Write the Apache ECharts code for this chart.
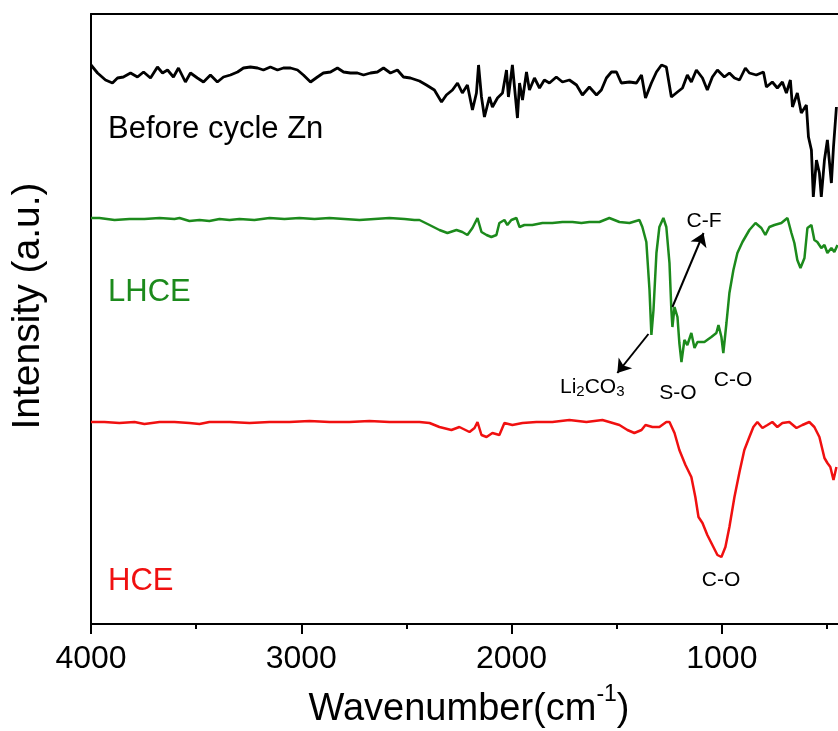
<!DOCTYPE html>
<html><head><meta charset="utf-8">
<script src="https://cdn.jsdelivr.net/npm/echarts@6/dist/echarts.min.js"></script>
<style>html,body{margin:0;padding:0;background:#fff}#c{width:838px;height:731px}</style>
</head><body><div id="c"></div>
<script>
// [wavenumber (cm-1), intensity (a.u., offset)]
const blackSpectrum = [[4000,559],[3969,551],[3931,544],[3898,541],[3874,546],[3846,547],[3812,551],[3779,547],[3750,552],[3717,546],[3684,557],[3660,551],[3636,554],[3608,547],[3584,556],[3551,542],[3527,551],[3494,546],[3465,542],[3432,549],[3399,542],[3370,547],[3337,549],[3303,552],[3275,556],[3242,557],[3208,556],[3180,554],[3147,557],[3113,554],[3085,556],[3051,556],[3018,554],[2990,549],[2956,542],[2923,547],[2895,551],[2861,552],[2828,556],[2799,552],[2766,551],[2733,551],[2704,549],[2671,551],[2638,552],[2609,556],[2576,551],[2543,554],[2514,547],[2481,546],[2438,543],[2405,539],[2367,534],[2333,522],[2310,529],[2281,534],[2257,541],[2234,531],[2210,539],[2186,514],[2167,531],[2157,559],[2143,527],[2129,507],[2105,527],[2091,517],[2067,526],[2043,531],[2024,554],[2015,527],[1996,559],[1986,537],[1972,506],[1962,541],[1948,524],[1929,552],[1915,534],[1891,546],[1867,536],[1844,544],[1820,541],[1787,547],[1758,542],[1725,544],[1691,539],[1663,529],[1630,537],[1596,529],[1573,534],[1549,546],[1525,552],[1501,552],[1478,541],[1439,542],[1406,541],[1382,549],[1363,526],[1335,541],[1311,552],[1287,559],[1264,557],[1240,527],[1211,532],[1187,536],[1164,549],[1145,542],[1121,554],[1092,546],[1069,534],[1045,547],[1021,554],[988,547],[964,551],[940,546],[916,544],[888,556],[869,551],[836,549],[802,552],[788,537],[760,542],[736,536],[712,542],[693,531],[674,544],[664,517],[641,531],[622,511],[598,519],[588,487],[574,474],[565,427],[550,464],[536,451],[527,427],[512,464],[498,484],[479,441],[469,477],[455,517]];

const greenSpectrum = [[4000,406],[3960,406],[3888,404],[3817,405],[3746,405],[3674,406],[3603,405],[3579,406],[3532,403],[3484,404],[3437,403],[3389,405],[3341,404],[3294,405],[3223,404],[3151,406],[3080,405],[3009,406],[2937,405],[2866,406],[2795,405],[2723,404],[2652,405],[2581,406],[2509,405],[2462,404],[2438,404],[2390,399],[2343,394],[2305,391],[2262,394],[2234,392],[2210,389],[2186,396],[2162,406],[2143,392],[2119,389],[2096,387],[2072,389],[2058,401],[2034,404],[2020,399],[2001,404],[1977,406],[1962,397],[1939,399],[1901,399],[1853,401],[1806,401],[1758,402],[1710,402],[1668,401],[1630,402],[1582,402],[1535,406],[1487,402],[1439,401],[1392,404],[1378,397],[1359,382],[1344,334],[1335,289],[1325,314],[1311,371],[1297,397],[1278,406],[1264,397],[1249,361],[1240,314],[1235,297],[1225,317],[1211,307],[1202,281],[1192,262],[1178,284],[1164,279],[1145,291],[1130,276],[1116,282],[1083,282],[1050,287],[1026,291],[1016,299],[1002,287],[993,271],[978,301],[964,331],[945,354],[926,371],[902,382],[869,394],[840,401],[812,396],[793,389],[774,397],[750,399],[717,401],[688,406],[669,391],[655,381],[641,364],[626,356],[607,366],[593,396],[574,399],[560,384],[546,382],[527,376],[512,379],[498,371],[479,376],[465,372],[450,379]];

const redSpectrum = [[4000,202],[3936,202],[3865,201],[3793,202],[3746,200],[3674,202],[3603,202],[3532,201],[3484,200],[3437,202],[3341,202],[3246,201],[3151,202],[3056,202],[2961,203],[2866,202],[2771,202],[2676,203],[2581,202],[2486,202],[2438,202],[2390,201],[2343,197],[2286,194],[2248,197],[2200,192],[2176,196],[2162,202],[2143,189],[2119,187],[2091,191],[2058,189],[2034,201],[1996,199],[1948,201],[1882,202],[1806,202],[1725,204],[1644,202],[1568,204],[1535,202],[1487,199],[1449,194],[1416,191],[1382,194],[1363,199],[1330,197],[1297,197],[1264,202],[1249,202],[1225,191],[1202,174],[1173,159],[1145,147],[1126,127],[1111,107],[1092,101],[1069,89],[1045,79],[1021,69],[1002,67],[983,77],[964,97],[940,127],[916,152],[893,174],[869,187],[850,197],[831,202],[807,196],[783,199],[760,202],[736,197],[712,201],[679,202],[645,196],[617,199],[584,202],[560,197],[536,187],[512,166],[498,161],[484,157],[469,144],[455,157]];

const majorTicks = [1000, 2000, 3000, 4000];
const minorTicks = [500, 1500, 2500, 3500];
const xRange = [400, 4000];
const yRange = [0, 610];
// annotation arrows: [from, to] in data coordinates
const arrowLines = [[[1349, 290], [1497, 251]], [[1235, 317], [1087, 391]]];

const FONT = 'Liberation Sans';
const GREEN = '#1c8a1c';
const RED = '#f01010';
const chart = echarts.init(document.getElementById('c'), null, {renderer: 'canvas'});

function xAx(extra) {
  return Object.assign({
    type: 'value', min: xRange[0], max: xRange[1], inverse: true,
    splitLine: {show: false}, minorTick: {show: false}, minorSplitLine: {show: false}
  }, extra);
}

const option = {
  animation: false,
  backgroundColor: '#ffffff',
  grid: {left: 91, right: -10, top: 14, bottom: 107, containLabel: false, outerBoundsMode: 'none'},
  xAxis: [
    xAx({position: 'bottom',
      axisLine: {show: true, onZero: false, lineStyle: {color: '#000', width: 2}},
      axisTick: {show: true, inside: false, length: 10, customValues: majorTicks, lineStyle: {color: '#000', width: 2}},
      axisLabel: {show: true, customValues: majorTicks, margin: 19, fontSize: 32, fontFamily: FONT, color: '#000',
        formatter: v => String(Math.round(v))}}),
    xAx({position: 'bottom',
      axisLine: {show: false, onZero: false},
      axisTick: {show: true, inside: false, length: 5, customValues: minorTicks, lineStyle: {color: '#000', width: 2}},
      axisLabel: {show: false}}),
    xAx({position: 'top',
      axisLine: {show: true, onZero: false, lineStyle: {color: '#000', width: 2}},
      axisTick: {show: false}, axisLabel: {show: false}})
  ],
  yAxis: {
    type: 'value', min: yRange[0], max: yRange[1],
    axisLine: {show: true, onZero: false, lineStyle: {color: '#000', width: 2}},
    axisTick: {show: false}, axisLabel: {show: false}, splitLine: {show: false}
  },
  series: [
    {type: 'line', name: 'Before cycle Zn', data: blackSpectrum, symbol: 'none', showSymbol: false,
      lineStyle: {color: '#000', width: 2.8}, itemStyle: {color: '#000'}, silent: true},
    {type: 'line', name: 'LHCE', data: greenSpectrum, symbol: 'none', showSymbol: false,
      lineStyle: {color: GREEN, width: 2.5}, itemStyle: {color: GREEN}, silent: true,
      markLine: {silent: true, animation: false, symbol: ['none', 'arrow'], symbolSize: 13,
        lineStyle: {color: '#000', width: 2, type: 'solid'}, label: {show: false},
        emphasis: {disabled: true},
        data: arrowLines.map(a => [{coord: a[0]}, {coord: a[1]}])}},
    {type: 'line', name: 'HCE', data: redSpectrum, symbol: 'none', showSymbol: false,
      lineStyle: {color: RED, width: 2.5}, itemStyle: {color: RED}, silent: true}
  ],
  graphic: [
    {type: 'text', x: 108, y: 129, style: {text: 'Before cycle Zn', fontSize: 31, fontFamily: FONT, fill: '#000', align: 'left', verticalAlign: 'middle'}},
    {type: 'text', x: 108, y: 292, style: {text: 'LHCE', fontSize: 31, fontFamily: FONT, fill: GREEN, align: 'left', verticalAlign: 'middle'}},
    {type: 'text', x: 108, y: 581, style: {text: 'HCE', fontSize: 31, fontFamily: FONT, fill: RED, align: 'left', verticalAlign: 'middle'}},
    {type: 'text', x: 704, y: 221, style: {text: 'C-F', fontSize: 21, fontFamily: FONT, fill: '#000', align: 'center', verticalAlign: 'middle'}},
    {type: 'text', x: 678, y: 393, style: {text: 'S-O', fontSize: 21, fontFamily: FONT, fill: '#000', align: 'center', verticalAlign: 'middle'}},
    {type: 'text', x: 733, y: 380, style: {text: 'C-O', fontSize: 21, fontFamily: FONT, fill: '#000', align: 'center', verticalAlign: 'middle'}},
    {type: 'text', x: 721, y: 580, style: {text: 'C-O', fontSize: 21, fontFamily: FONT, fill: '#000', align: 'center', verticalAlign: 'middle'}},
    {type: 'text', x: 560, y: 387, style: {text: '{a|Li}{b|2}{a|CO}{b|3}', fill: '#000', align: 'left', verticalAlign: 'middle',
      rich: {a: {fontSize: 21, fontFamily: FONT, lineHeight: 24, fill: '#000'},
             b: {fontSize: 15, fontFamily: FONT, lineHeight: 10, verticalAlign: 'bottom', fill: '#000'}}}},
    {type: 'text', x: 469, y: 710, style: {text: '{a|Wavenumber(cm}{s|-1}{a|)}', fill: '#000', align: 'center', verticalAlign: 'middle',
      rich: {a: {fontSize: 38, fontFamily: FONT, lineHeight: 53, fill: '#000'},
             s: {fontSize: 23, fontFamily: FONT, lineHeight: 10, verticalAlign: 'top', fill: '#000'}}}},
    {type: 'text', x: 28, y: 306, rotation: Math.PI / 2, style: {text: 'Intensity (a.u.)', fontSize: 39, fontFamily: FONT, fill: '#000', align: 'center', verticalAlign: 'middle'}}
  ]
};
chart.setOption(option);
</script></body></html>
